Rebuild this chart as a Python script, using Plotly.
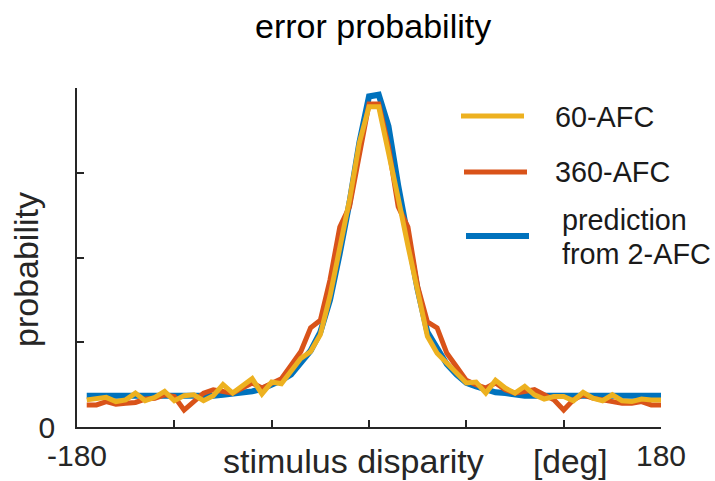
import plotly.graph_objects as go

# ---- data ----
disparity = [-174, -168, -162, -156, -150, -144, -138, -132, -126, -120,
             -114, -108, -102, -96, -90, -84, -78, -72, -66, -60,
             -54, -48, -42, -36, -30, -24, -18, -12, -6, 0,
             6, 12, 18, 24, 30, 36, 42, 48, 54, 60,
             66, 72, 78, 84, 90, 96, 102, 108, 114, 120,
             126, 132, 138, 144, 150, 156, 162, 168, 174, 180]

pred_2afc = [0.37, 0.37, 0.37, 0.36, 0.36, 0.36, 0.36, 0.36, 0.36, 0.36,
             0.36, 0.36, 0.37, 0.37, 0.38, 0.39, 0.40, 0.42, 0.45, 0.50,
             0.55, 0.62, 0.75, 0.90, 1.12, 1.50, 2.05, 2.65, 3.35, 3.90,
             3.92, 3.55, 2.85, 2.20, 1.62, 1.12, 0.92, 0.74, 0.62, 0.52,
             0.48, 0.44, 0.41, 0.40, 0.38, 0.37, 0.37, 0.37, 0.37, 0.37,
             0.37, 0.37, 0.37, 0.37, 0.37, 0.37, 0.37, 0.37, 0.37, 0.37]

afc_360 = [0.26, 0.26, 0.30, 0.27, 0.28, 0.29, 0.33, 0.34, 0.38, 0.36,
           0.20, 0.30, 0.40, 0.44, 0.42, 0.40, 0.46, 0.52, 0.46, 0.52,
           0.57, 0.73, 0.89, 1.17, 1.26, 1.74, 2.36, 2.60, 3.19, 3.81,
           3.81, 3.31, 2.60, 2.36, 1.66, 1.24, 1.17, 0.87, 0.71, 0.55,
           0.50, 0.46, 0.52, 0.44, 0.40, 0.42, 0.44, 0.38, 0.32, 0.20,
           0.32, 0.38, 0.34, 0.32, 0.30, 0.28, 0.28, 0.30, 0.26, 0.26]

afc_60 = [0.32, 0.33, 0.35, 0.30, 0.32, 0.40, 0.31, 0.35, 0.42, 0.31,
          0.37, 0.38, 0.31, 0.37, 0.50, 0.40, 0.48, 0.57, 0.39, 0.53,
          0.51, 0.67, 0.81, 0.89, 1.09, 1.55, 2.12, 2.68, 3.35, 3.78,
          3.78, 3.27, 2.70, 2.14, 1.61, 1.07, 0.87, 0.75, 0.63, 0.52,
          0.53, 0.40, 0.55, 0.46, 0.40, 0.48, 0.38, 0.33, 0.36, 0.36,
          0.31, 0.41, 0.34, 0.31, 0.38, 0.31, 0.30, 0.33, 0.32, 0.32]

x_ticks = [-180, -120, -60, 0, 60, 120, 180]
x_ticktext = ["-180", "", "", "", "", "", "180"]
y_ticks = [0, 1, 2, 3, 4]
y_ticktext = ["0", "", "", "", ""]

legend_names = ["60-AFC", "360-AFC", "prediction", "from 2-AFC"]

C_BLUE = "#0072BD"
C_ORANGE = "#D95319"
C_YELLOW = "#EDB120"
FONT = "Liberation Sans, Arial, Helvetica, sans-serif"
AX = "#262626"

fig = go.Figure()
fig.add_trace(go.Scatter(x=disparity, y=pred_2afc, mode="lines",
                         line=dict(color=C_BLUE, width=6), name="prediction from 2-AFC",
                         showlegend=False))
fig.add_trace(go.Scatter(x=disparity, y=afc_360, mode="lines",
                         line=dict(color=C_ORANGE, width=5), name="360-AFC",
                         showlegend=False))
fig.add_trace(go.Scatter(x=disparity, y=afc_60, mode="lines",
                         line=dict(color=C_YELLOW, width=5), name="60-AFC",
                         showlegend=False))

W, H = 715, 481
L, R, T, B = 77, 54, 88, 54
pw, ph = W - L - R, H - T - B


def px(xp):
    return (xp - L) / pw


def py(yp):
    return (H - B - yp) / ph


shapes = []
annotations = []
# custom legend
leg = [(C_YELLOW, 461, 524, 116, 5), (C_ORANGE, 464, 527, 172, 5), (C_BLUE, 466, 529, 236, 6)]
for col, x0, x1, yy, w in leg:
    shapes.append(dict(type="line", xref="paper", yref="paper",
                       x0=px(x0), x1=px(x1), y0=py(yy), y1=py(yy),
                       line=dict(color=col, width=w)))
leg_txt = [(legend_names[0], 553, 117), (legend_names[1], 553, 172),
           (legend_names[2], 560, 220), (legend_names[3], 560, 254)]
for t, xx, yy in leg_txt:
    annotations.append(dict(text=t, xref="paper", yref="paper", x=px(xx), y=py(yy),
                            xanchor="left", yanchor="middle", showarrow=False,
                            font=dict(size=28.8, color="#1a1a1a", family=FONT)))

# title and axis labels
annotations.append(dict(text="error probability", xref="paper", yref="paper",
                        x=px(373), y=py(26), xanchor="center", yanchor="middle",
                        showarrow=False, font=dict(size=34, color="#000000", family=FONT)))
annotations.append(dict(text="stimulus disparity", xref="paper", yref="paper",
                        x=px(353), y=py(461), xanchor="center", yanchor="middle",
                        showarrow=False, font=dict(size=34, color="#262626", family=FONT)))
annotations.append(dict(text="[deg]", xref="paper", yref="paper",
                        x=px(531), y=py(461), xanchor="left", yanchor="middle",
                        showarrow=False, font=dict(size=33.5, color="#262626", family=FONT)))
annotations.append(dict(text="probability", xref="paper", yref="paper",
                        x=px(26), y=py(270), xanchor="center", yanchor="middle",
                        textangle=-90, showarrow=False,
                        font=dict(size=34, color="#262626", family=FONT)))

fig.update_layout(
    width=W, height=H,
    margin=dict(l=L, r=R, t=T, b=B, pad=0, autoexpand=False),
    paper_bgcolor="white", plot_bgcolor="white",
    showlegend=False,
    shapes=shapes,
    annotations=annotations,
    xaxis=dict(range=[-180, 180], tickvals=x_ticks, ticktext=x_ticktext,
               ticks="inside", ticklen=7, tickwidth=1.5, tickcolor=AX,
               showline=True, linecolor=AX, linewidth=1.5, showgrid=False,
               zeroline=False, ticklabelstandoff=1, automargin=False,
               tickfont=dict(size=30, color="#262626", family=FONT)),
    yaxis=dict(range=[0, 4], tickvals=y_ticks, ticktext=y_ticktext,
               ticks="inside", ticklen=7, tickwidth=1.5, tickcolor=AX,
               showline=True, linecolor=AX, linewidth=1.5, showgrid=False,
               zeroline=False, ticklabelstandoff=14, automargin=False,
               tickfont=dict(size=30, color="#262626", family=FONT)),
)

fig.write_html("out.html", config={"displayModeBar": False},
               post_script="document.body.style.margin='0px';document.body.style.overflow='hidden';")
